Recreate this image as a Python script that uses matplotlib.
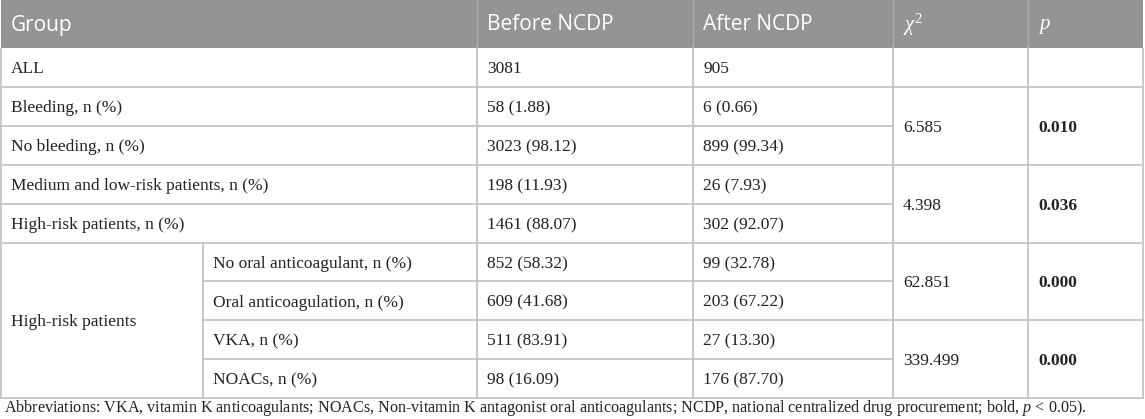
import matplotlib
matplotlib.use("Agg")
import matplotlib.pyplot as plt
from matplotlib.patches import Rectangle

plt.rcParams['mathtext.fontset'] = 'custom'
plt.rcParams['mathtext.rm'] = 'Liberation Serif'
plt.rcParams['mathtext.it'] = 'Liberation Serif:italic'
plt.rcParams['mathtext.bf'] = 'Liberation Serif:bold'

headers = ["Group", "Before NCDP", "After NCDP", r"$\chi^2$", "$p$"]
groups = ["ALL", "Bleeding, n (%)", "No bleeding, n (%)",
          "Medium and low-risk patients, n (%)", "High-risk patients, n (%)"]
sub_group = "High-risk patients"
sub_labels = ["No oral anticoagulant, n (%)", "Oral anticoagulation, n (%)",
              "VKA, n (%)", "NOACs, n (%)"]
before = ["3081", "58 (1.88)", "3023 (98.12)", "198 (11.93)", "1461 (88.07)",
          "852 (58.32)", "609 (41.68)", "511 (83.91)", "98 (16.09)"]
after = ["905", "6 (0.66)", "899 (99.34)", "26 (7.93)", "302 (92.07)",
         "99 (32.78)", "203 (67.22)", "27 (13.30)", "176 (87.70)"]
# merged test cells: (first row, last row, chi2, p)
tests = [(1, 2, "6.585", "0.010"), (3, 4, "4.398", "0.036"),
         (5, 6, "62.851", "0.000"), (7, 8, "339.499", "0.000")]
footnote = ("Abbreviations: VKA, vitamin K anticoagulants; NOACs, Non-vitamin K antagonist "
            "oral anticoagulants; NCDP, national centralized drug procurement; bold, $\\it{p}$ < 0.05).")

W, H = 1145, 419
fig = plt.figure(figsize=(W / 100, H / 100), dpi=100)
ax = fig.add_axes([0, 0, 1, 1])
ax.set_xlim(0, W)
ax.set_ylim(H, 0)
ax.axis("off")

cols = [1, 477, 693, 893, 1028, 1143]
sub_x = 203
head_h = 48
row_h = 38.9
n_rows = len(before)
top = head_h
bottom = top + n_rows * row_h
line_c = "#c4c4c4"
txt_c = "#222222"
serif = "Liberation Serif"
sans = "Open Sans"
fs = 12.5
va = "center_baseline"

def ymid(i):
    return top + (i + 0.5) * row_h

# header
ax.add_patch(Rectangle((cols[0], 0), cols[-1] - cols[0], head_h, color="#949494", lw=0))
for j, h in enumerate(headers):
    ax.text(cols[j] + 10, head_h / 2 + 1, h, color="white", fontsize=15, family=sans,
            va="center", ha="left")
for x in cols[1:-1]:
    ax.plot([x, x], [0, head_h], color="#adadad", lw=1)

# body rows
for i in range(n_rows):
    if i < len(groups):
        ax.text(cols[0] + 10, ymid(i), groups[i], fontsize=fs, family=serif, color=txt_c, va=va)
    else:
        ax.text(sub_x + 10, ymid(i), sub_labels[i - len(groups)], fontsize=fs, family=serif,
                color=txt_c, va=va)
    ax.text(cols[1] + 10, ymid(i), before[i], fontsize=fs, family=serif, color=txt_c, va=va)
    ax.text(cols[2] + 10, ymid(i), after[i], fontsize=fs, family=serif, color=txt_c, va=va)

ax.text(cols[0] + 10, top + (len(groups) + len(sub_labels) / 2) * row_h, sub_group,
        fontsize=fs, family=serif, color=txt_c, va=va)

for r0, r1, chi, p in tests:
    yc = top + (r0 + r1 + 1) / 2 * row_h
    ax.text(cols[3] + 10, yc, chi, fontsize=fs, family=serif, color=txt_c, va=va)
    ax.text(cols[4] + 10, yc, p, fontsize=fs, family=serif, color=txt_c, va=va,
            fontweight="bold")

# horizontal grid lines
inner_pairs = {r0 for r0, r1, _, _ in tests}
for i in range(1, n_rows + 1):
    y = top + i * row_h
    x0 = cols[0]
    if len(groups) < i < n_rows:
        x0 = sub_x
    x1 = cols[-1]
    if (i - 1) in inner_pairs:
        x1 = cols[3]
    ax.plot([x0, x1], [y, y], color=line_c, lw=1.3)

# vertical grid lines
for x in cols:
    ax.plot([x, x], [top, bottom], color=line_c, lw=1.3)
ax.plot([sub_x, sub_x], [top + len(groups) * row_h, bottom], color=line_c, lw=1.3)

ax.text(4, 408, footnote, fontsize=11.6, family=serif, color=txt_c, va="center")

fig.savefig("out.png", dpi=100)
